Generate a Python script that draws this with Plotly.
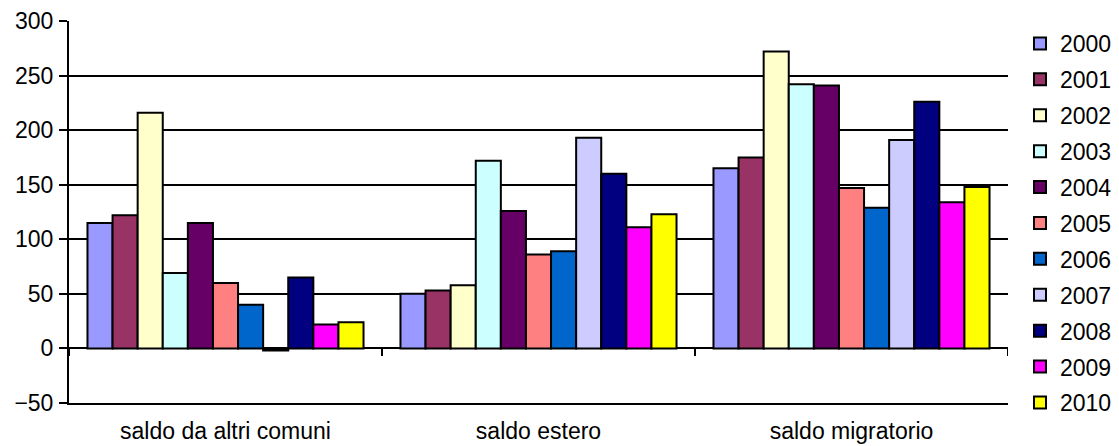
import plotly.graph_objects as go

categories = ["saldo da altri comuni", "saldo estero", "saldo migratorio"]
years = ["2000", "2001", "2002", "2003", "2004", "2005", "2006", "2007", "2008", "2009", "2010"]
values = {
    "2000": [115, 50, 165],
    "2001": [122, 53, 175],
    "2002": [216, 58, 272],
    "2003": [69, 172, 242],
    "2004": [115, 126, 241],
    "2005": [60, 86, 147],
    "2006": [40, 89, 129],
    "2007": [-2, 193, 191],
    "2008": [65, 160, 226],
    "2009": [22, 111, 134],
    "2010": [24, 123, 148],
}
colors = ["#9999FF", "#993366", "#FFFFCC", "#CCFFFF", "#660066", "#FF8080",
          "#0066CC", "#CCCCFF", "#000080", "#FF00FF", "#FFFF00"]
y_ticks = [-50, 0, 50, 100, 150, 200, 250, 300]

FONT = "Liberation Sans, Arial, sans-serif"
FS = 23

fig = go.Figure()
for yr, col in zip(years, colors):
    fig.add_trace(go.Bar(
        name=yr, x=categories, y=values[yr],
        marker=dict(color=col, line=dict(color="black", width=2)),
        legendgroup=yr,
    ))

# category boundary tick marks on the zero line
shapes = []
for b in [-0.5, 0.5, 1.5, 2.5]:
    shapes.append(dict(type="line", xref="x", yref="y", x0=b, x1=b, y0=0, y1=-7,
                       line=dict(color="black", width=2)))

fig.update_layout(
    width=1119, height=446,
    margin=dict(l=69, r=111, t=21, b=43, autoexpand=False),
    paper_bgcolor="white", plot_bgcolor="white",
    font=dict(family=FONT, size=FS, color="black"),
    barmode="group", bargap=0.118, bargroupgap=0,
    showlegend=True,
    legend=dict(xref="container", yref="container", x=1020 / 1119, y=1 - 22 / 446,
                xanchor="left", yanchor="top", maxheight=446,
                font=dict(size=FS), tracegroupgap=3, itemwidth=30),
    shapes=shapes,
    xaxis=dict(range=[-0.5, 2.5], showgrid=False, showline=True, linecolor="black",
               linewidth=2, ticks="", ticklabelstandoff=6, tickfont=dict(size=FS)),
    yaxis=dict(range=[-50, 300], tickvals=y_ticks, showgrid=True,
               gridcolor="black", gridwidth=2, showline=True, linecolor="black",
               linewidth=2, ticks="outside", ticklen=8, tickwidth=2, tickcolor="black",
               zeroline=True, zerolinecolor="black", zerolinewidth=2,
               tickfont=dict(size=FS), ticklabelstandoff=1),
)

fig.write_html("out.html")
